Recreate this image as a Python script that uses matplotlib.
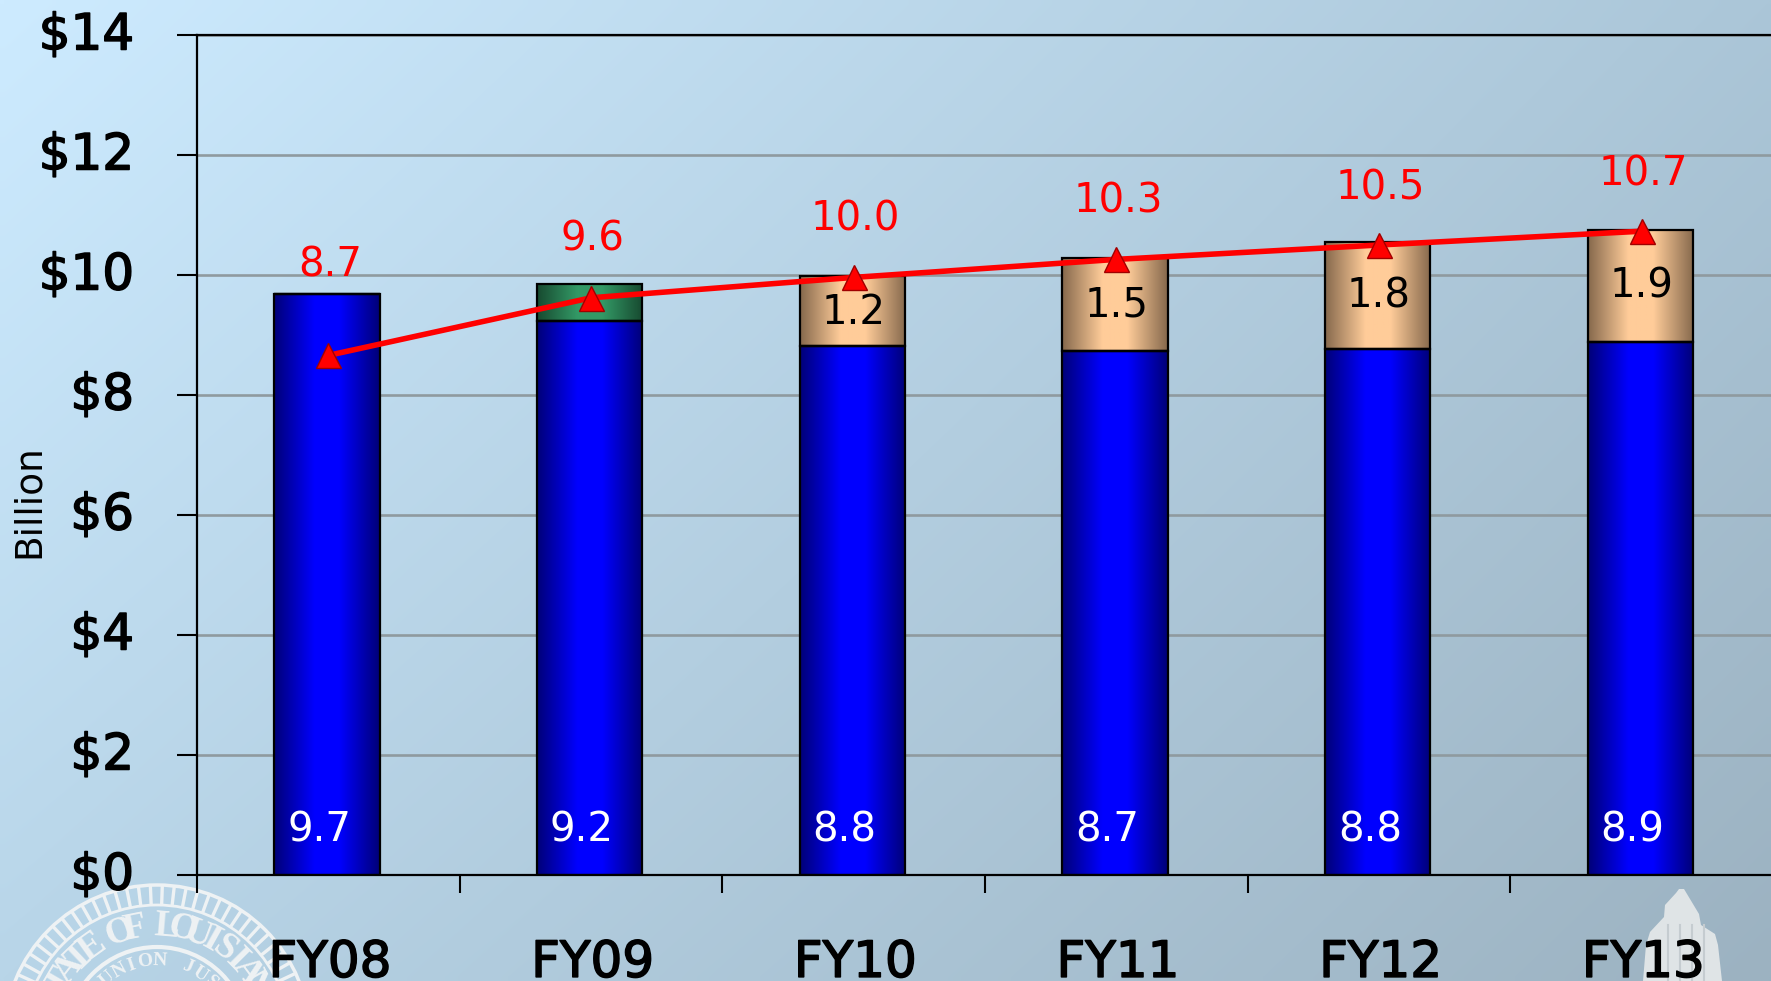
"""
Recreate the FY08-FY13 stacked bar chart with its gradient slide background.
"""

import numpy as np
import matplotlib
matplotlib.use("Agg")
import matplotlib.pyplot as plt
import matplotlib.patheffects as pe
from matplotlib.colors import LinearSegmentedColormap, to_rgb
from matplotlib.patches import Circle, Polygon
from matplotlib.transforms import ScaledTranslation

WIDTH, HEIGHT = 1771, 981

years = ["FY08", "FY09", "FY10", "FY11", "FY12", "FY13"]
base_values = [9.68, 9.23, 8.81, 8.74, 8.77, 8.89]
base_labels = ["9.7", "9.2", "8.8", "8.7", "8.8", "8.9"]
green_values = [0, 0.62, 0, 0, 0, 0]
tan_values = [0, 0, 1.17, 1.54, 1.78, 1.86]
tan_labels = ["", "", "1.2", "1.5", "1.8", "1.9"]
line_values = [8.66, 9.62, 9.96, 10.26, 10.5, 10.73]
line_labels = ["8.7", "9.6", "10.0", "10.3", "10.5", "10.7"]
line_label_gaps = [1.5, 0.97, 0.97, 0.97, 0.95, 0.95]
y_ticks = [0, 2, 4, 6, 8, 10, 12, 14]


def background(ax):
	"""
	Fill ax with the diagonal slide gradient, from pale blue to grey blue.
	"""
	corners = np.array([
		[to_rgb("#cdebff"), to_rgb("#abc6d8")],
		[to_rgb("#b8d5e8"), to_rgb("#9cb2c1")],
	])
	u = np.linspace(0, 1, 200)[None, :, None]
	v = np.linspace(0, 1, 120)[:, None, None]
	img = (
		  corners[0, 0] * (1-u) * (1-v) + corners[0, 1] * u * (1-v)
		+ corners[1, 0] * (1-u) * v + corners[1, 1] * u * v
	)
	ax.imshow(img, extent=[0, WIDTH, HEIGHT, 0], aspect="auto", interpolation="bilinear")


def draw_seal(ax):
	"""
	Draw the pale state seal that is cut off by the bottom left corner.
	"""
	cx, cy, r = 157, 1038, 153
	white = "#eef2f4"
	ax.add_patch(Circle((cx, cy), r, fill=False, ec=white, lw=2.5))
	ax.add_patch(Circle((cx, cy), r-20, fill=False, ec=white, lw=2))
	ax.add_patch(Circle((cx, cy), r-62, fill=False, ec=white, lw=3))
	for angle in np.radians(np.arange(-178, 0, 4.5)):
		ax.plot(
			[cx + (r-19)*np.cos(angle), cx + (r-2)*np.cos(angle)],
			[cy + (r-19)*np.sin(angle), cy + (r-2)*np.sin(angle)],
			color=white, lw=2.4
		)
	for text, radius, size, start, step in (
		("STATE OF LOUISIANA", r-41, 27, -158, 8.1),
		("UNION JUSTICE", r-76, 14, -130, 10.5),
	):
		for n, char in enumerate(text):
			angle = start + n*step
			ax.text(
				cx + radius*np.cos(np.radians(angle)),
				cy + radius*np.sin(np.radians(angle)),
				char, color=white, fontsize=size, fontweight="bold",
				family="Liberation Serif", rotation=-angle-90,
				rotation_mode="anchor", ha="center", va="center"
			)
	# Pelican outline in the middle of the seal
	ax.add_patch(Circle((cx-5, cy-20), 32, fill=False, ec="#dde3e6", lw=5))
	ax.add_patch(Circle((cx+55, cy-15), 28, fill=False, ec="#dde3e6", lw=4))


def draw_tower(ax):
	"""
	Draw the pale capitol tower behind the FY13 label.
	"""
	outline = [
		(1643, 981), (1646, 945), (1650, 932), (1664, 917), (1665, 905),
		(1676, 893), (1679, 889), (1684, 889), (1687, 894), (1699, 914),
		(1701, 925), (1715, 934), (1718, 945), (1722, 981),
	]
	ax.add_patch(Polygon(outline, closed=True, fc="#dfe4e6", ec="none"))
	for x in (1668, 1680, 1692, 1704):
		ax.plot([x, x], [925, 981], color="#c5ccd0", lw=1.5)


def gradient_bars(ax, x, bottoms, heights, edge_colour, mid_colour, width):
	"""
	Draw bars with a horizontal dark-light-dark fill and a black outline.
	"""
	cmap = LinearSegmentedColormap.from_list(
		"bar",
		[(0, edge_colour), (0.38, mid_colour), (0.62, mid_colour), (1, edge_colour)]
	)
	ramp = np.linspace(0, 1, 128)[None, :]
	for xi, bottom, height in zip(x, bottoms, heights):
		if height == 0:
			continue
		ax.imshow(
			ramp, cmap=cmap, aspect="auto", zorder=2, interpolation="bilinear",
			extent=[xi-width/2, xi+width/2, bottom, bottom+height]
		)
	ax.bar(
		x, heights, width, bottom=bottoms, fc="none", ec="black", lw=1.6, zorder=3
	)


def main():
	fig = plt.figure(figsize=(WIDTH/100, HEIGHT/100), dpi=100)

	# Whole-figure layer for the background pictures
	bg = fig.add_axes([0, 0, 1, 1], zorder=0)
	background(bg)
	draw_seal(bg)
	draw_tower(bg)
	bg.set_xlim(0, WIDTH)
	bg.set_ylim(HEIGHT, 0)
	bg.axis("off")

	ax = fig.add_axes([197/WIDTH, 1-875/HEIGHT, 1576/WIDTH, 840/HEIGHT], zorder=1)
	ax.patch.set_alpha(0)
	x = np.arange(len(years))
	bar_x = x - 0.005
	base = np.array(base_values)
	bar_width = 0.4

	gradient_bars(ax, bar_x, np.zeros(len(x)), base, "#000078", "#0000ff", bar_width)
	gradient_bars(ax, bar_x, base, green_values, "#174a30", "#339966", bar_width)
	gradient_bars(ax, bar_x, base, tan_values, "#86694d", "#ffcc99", bar_width)

	ax.plot(x, line_values, color="#ff0000", lw=4, zorder=4)
	ax.plot(
		x, line_values, ls="none", marker="^", ms=18, mfc="#ff0000",
		mec="#a00000", mew=1, zorder=5
	)

	for i in range(len(x)):
		ax.text(
			x[i]-0.035, 0.74, base_labels[i], color="white", fontsize=29,
			ha="center", va="center", zorder=6
		)
		ax.text(
			x[i]+0.006, line_values[i] + line_label_gaps[i], line_labels[i],
			color="#ff0000", fontsize=29, ha="center", va="center", zorder=6
		)
		if tan_labels[i]:
			ax.text(
				x[i], base[i] + tan_values[i]/2 - 0.02, tan_labels[i], color="black",
				fontsize=29, ha="center", va="center", zorder=6
			)

	ax.set_xlim(-0.5, 5.5)
	ax.set_ylim(0, 14)
	ax.set_xticks(np.arange(-0.5, 5.5, 1))
	ax.set_xticklabels([])
	ax.set_xticks(x + 0.006, labels=years, minor=True)
	ax.set_yticks(y_ticks, labels=[f"${t}" for t in y_ticks])

	ax.grid(which="major", axis="y", color="#8f9a9f", lw=1.9, zorder=1)
	ax.set_axisbelow(True)
	ax.tick_params(axis="y", length=14.4, width=1.5, pad=31, labelsize=36)
	ax.tick_params(axis="x", which="major", length=13, width=1.5)
	ax.tick_params(axis="x", which="minor", length=0, pad=46, labelsize=36)
	nudge = ScaledTranslation(0, 4.5/100, fig.dpi_scale_trans)
	for label in ax.get_yticklabels():
		label.set_transform(label.get_transform() + nudge)
		label.set_path_effects([pe.withStroke(linewidth=1.1, foreground="black")])
	for label in ax.get_xticklabels(minor=True):
		label.set_path_effects([pe.withStroke(linewidth=1.1, foreground="black")])

	ax.spines["right"].set_visible(False)
	for side in ("left", "bottom", "top"):
		ax.spines[side].set_linewidth(1.6)

	fig.text(29/WIDTH, 1-501/HEIGHT, "Billion", rotation=90, fontsize=27, ha="center", va="center")

	fig.savefig("out.png", dpi=100)


if __name__ == "__main__":
	main()
